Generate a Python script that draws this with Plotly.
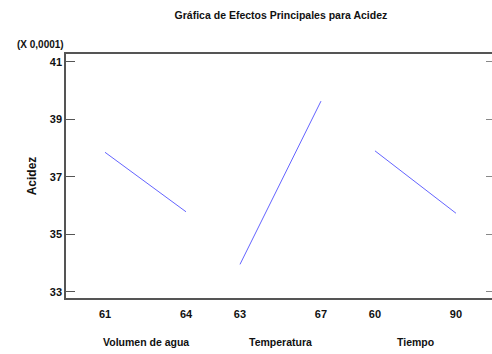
import plotly.graph_objects as go

factors = ["Volumen de agua", "Temperatura", "Tiempo"]
low_levels = ["61", "63", "60"]
high_levels = ["64", "67", "90"]
low_means = [37.85, 33.95, 37.90]
high_means = [35.78, 39.63, 35.73]
y_ticks = [33, 35, 37, 39, 41]

FONT = "Liberation Sans Narrow, Arial Narrow, Liberation Sans, Arial, sans-serif"
LINE_COLOR = "rgb(100,100,255)"
FRAME = "#555555"
SPAN = 0.6  # horizontal extent of each factor's segment (in slot units)

fig = go.Figure()
tickvals, ticktext = [], []
for i, f in enumerate(factors):
    xs = [i, i + SPAN]
    fig.add_trace(go.Scatter(x=xs, y=[low_means[i], high_means[i]], mode="lines",
                             line=dict(color=LINE_COLOR, width=1), showlegend=False,
                             hoverinfo="skip"))
    tickvals += xs
    ticktext += [low_levels[i], high_levels[i]]
    fig.add_annotation(x=i + SPAN / 2, xref="x", y=-0.18, yref="paper", text=f"<b>{f}</b>",
                       showarrow=False, font=dict(family=FONT, size=10.5, color="#111"),
                       yanchor="middle")

# invisible trace for the right-side tick axis
fig.add_trace(go.Scatter(x=[0], y=[37], yaxis="y2", mode="markers",
                         marker=dict(opacity=0), showlegend=False, hoverinfo="skip"))

yr = [32.78, 41.27]
tfont = dict(family=FONT, size=11, color="#111", weight="bold")
fig.update_layout(
    width=492, height=354,
    margin=dict(l=66, r=0, t=54, b=56),
    plot_bgcolor="white", paper_bgcolor="white",
    title=dict(text="<b>Gráfica de Efectos Principales para Acidez</b>", x=0.571, xanchor="center",
               y=0.958, yanchor="middle", font=dict(family=FONT, size=10.5, color="#111")),
    xaxis=dict(range=[-0.289, 2.867], tickvals=tickvals, ticktext=ticktext,
               showline=True, linecolor=FRAME, linewidth=1.5, mirror=True,
               ticks="", showgrid=False, zeroline=False, ticklabelstandoff=5,
               tickfont=tfont),
    yaxis=dict(range=yr, tickvals=y_ticks, ticks="inside", ticklen=9, tickcolor=FRAME,
               showline=True, linecolor=FRAME, linewidth=1.5, showgrid=False, zeroline=False,
               tickfont=tfont,
               title=dict(text="<b>Acidez</b>", font=dict(family=FONT, size=12, color="#111"),
                          standoff=11)),
    yaxis2=dict(range=yr, tickvals=y_ticks, overlaying="y", side="right", ticks="inside",
                ticklen=6, tickcolor="#888", showticklabels=False, showline=False,
                showgrid=False, zeroline=False),
)
fig.add_annotation(text="<b>(X 0,0001)</b>", x=-0.059, xref="paper", xanchor="center",
                   y=1.037, yref="paper", yanchor="middle", showarrow=False,
                   font=dict(family=FONT, size=10, color="#111"))
fig.write_html("out.html")
